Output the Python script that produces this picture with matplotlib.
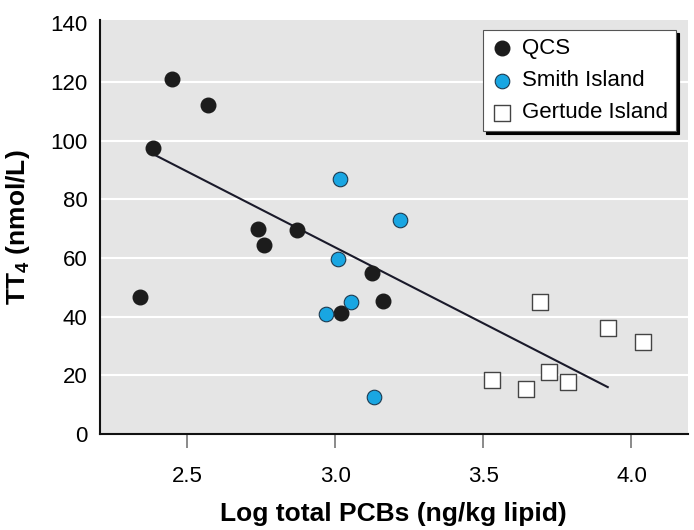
import matplotlib
matplotlib.use("Agg")
import matplotlib.pyplot as plt

plt.rcParams['font.family'] = ['Liberation Sans', 'DejaVu Sans']
plt.rcParams['mathtext.fontset'] = 'custom'
plt.rcParams['mathtext.rm'] = 'Liberation Sans'
plt.rcParams['mathtext.bf'] = 'Liberation Sans:bold'

# QCS
qcs_x = [2.34, 2.45, 2.57, 2.385, 2.74, 2.76, 2.87, 3.125, 3.16, 3.02]
qcs_y = [46.7, 121, 112, 97.5, 70, 64.4, 69.5, 55, 45.3, 41.2]
# Smith Island
smith_x = [3.015, 3.01, 3.22, 2.97, 3.055, 3.13]
smith_y = [87, 59.5, 73, 41, 45, 12.6]
# Gertude Island
gert_x = [3.69, 3.92, 4.04, 3.53, 3.645, 3.72, 3.785]
gert_y = [45, 36, 31.5, 18.5, 15.5, 21, 17.7]
# regression line end points
fit_x = [2.385, 3.92]
fit_y = [95.4, 16.0]

fig = plt.figure(figsize=(6.94, 5.30), dpi=100)
ax = fig.add_axes([0.144, 0.181, 0.847, 0.781])
ax.set_facecolor('#e5e5e5')

for yv in [20, 40, 60, 80, 100, 120]:
    ax.axhline(yv, color='white', lw=1.5, zorder=1)

ax.plot(fit_x, fit_y, color='#1a1a2a', lw=1.5, zorder=2)
ax.scatter(qcs_x, qcs_y, s=110, color='#1c1c1c', edgecolor='#1c1c1c', zorder=3, label='QCS')
ax.scatter(smith_x, smith_y, s=110, color='#19a6e2', edgecolor='#1c3a50', lw=0.8, zorder=3, label='Smith Island')
ax.scatter(gert_x, gert_y, s=120, marker='s', color='white', edgecolor='#444444', lw=1.0, zorder=3, label='Gertude Island')

ax.set_xlim(2.206, 4.19)
ax.set_ylim(0, 141)
ax.set_xticks([2.5, 3.0, 3.5, 4.0])
ax.set_xticklabels(['2.5', '3.0', '3.5', '4.0'])
ax.set_yticks([0, 20, 40, 60, 80, 100, 120, 140])

for s in ['top', 'right']:
    ax.spines[s].set_visible(False)
ax.spines['left'].set_color('#111111')
ax.spines['bottom'].set_color('#111111')
ax.spines['left'].set_linewidth(1.5)
ax.spines['bottom'].set_linewidth(1.5)

ax.tick_params(axis='x', length=10, width=1.2, color='#777777', labelsize=16, pad=13)
ax.tick_params(axis='y', length=0, labelsize=16, pad=9)

ax.set_xlabel('Log total PCBs (ng/kg lipid)', fontsize=19, fontweight='bold')
ax.set_ylabel(r'TT$_\mathbf{4}$ (nmol/L)', fontsize=19, fontweight='bold')
ax.xaxis.set_label_coords(0.5, -0.165)
ax.yaxis.set_label_coords(-0.115, 0.5)

leg = ax.legend(loc='upper right', bbox_to_anchor=(0.98, 0.975), fontsize=16,
                frameon=True, fancybox=False, edgecolor='#555555', framealpha=1,
                shadow={'color': 'black', 'alpha': 1}, handletextpad=0.4,
                borderpad=0.35, labelspacing=0.5, handlelength=1.0, scatterpoints=1,
                borderaxespad=0)
leg.get_frame().set_linewidth(0.8)

fig.savefig('out.png', dpi=100)
